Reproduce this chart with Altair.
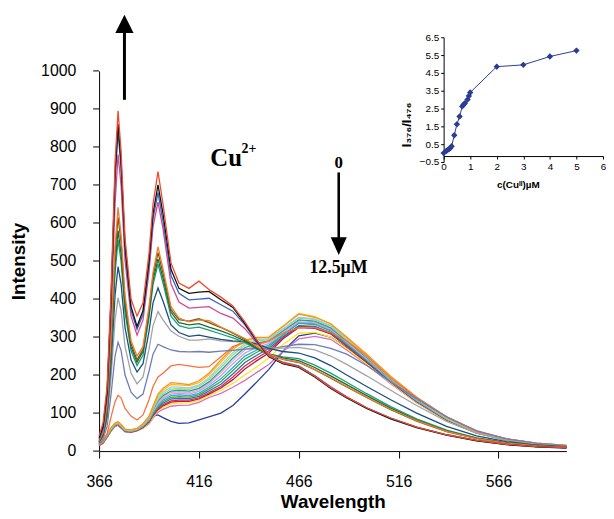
import altair as alt
import pandas as pd

# ---------------- main spectra ----------------
wavelength = [366, 368, 370, 372, 374, 375.5, 377, 379, 382, 385, 388, 391, 393, 395.5, 398, 402, 406, 411, 416, 421,
              427, 433, 439, 445, 451, 458, 466, 474, 482, 490, 500, 512, 525, 540, 555, 570, 585, 600]

royal = [14, 21, 36, 53, 65, 68, 61, 51, 50, 56, 70, 85, 92, 95, 88, 78, 73, 74, 82, 90, 100, 120, 150, 182, 215, 262, 303, 310, 300, 272, 232, 180, 129, 81, 48, 29, 19, 14]
pinkpurple = [14, 21, 36, 53, 65, 68, 61, 51, 49, 53, 60, 72, 87, 102, 110, 118, 120, 121, 128, 141, 152, 168, 186, 207, 228, 262, 295, 302, 294, 266, 228, 177, 127, 80, 47, 29, 19, 14]
yellow = [15, 22, 37, 54, 66, 69, 62, 52, 50, 54, 61, 74, 90, 106, 115, 124, 126, 127, 133, 146, 160, 178, 200, 222, 245, 280, 310, 312, 300, 270, 230, 179, 128, 81, 48, 29, 19, 14]
crimson = [15, 22, 38, 55, 67, 70, 63, 52, 50, 54, 62, 76, 93, 109, 119, 129, 131, 131, 137, 150, 166, 188, 216, 238, 258, 295, 325, 323, 308, 276, 234, 182, 130, 82, 48, 30, 19, 14]
red2 = [16, 23, 39, 56, 68, 71, 64, 53, 51, 55, 63, 77, 95, 111, 122, 132, 134, 134, 140, 153, 170, 195, 224, 245, 264, 298, 328, 326, 310, 278, 236, 183, 131, 83, 49, 30, 19, 14]
blue2 = [16, 23, 39, 56, 68, 71, 64, 53, 51, 55, 64, 78, 97, 114, 126, 137, 139, 138, 144, 158, 176, 203, 233, 252, 270, 300, 330, 328, 312, 280, 237, 184, 131, 83, 49, 30, 19, 14]
green = [16, 24, 40, 57, 69, 72, 65, 54, 52, 56, 65, 80, 99, 117, 130, 141, 143, 142, 148, 163, 183, 212, 242, 260, 275, 304, 336, 333, 316, 282, 239, 185, 132, 84, 49, 30, 19, 14]
cyan = [17, 24, 40, 57, 69, 72, 65, 54, 52, 56, 66, 82, 102, 120, 134, 146, 148, 146, 152, 168, 190, 220, 250, 266, 279, 306, 338, 335, 318, 284, 240, 186, 133, 84, 49, 30, 19, 14]
lavender = [17, 25, 41, 58, 70, 73, 66, 55, 53, 57, 67, 84, 104, 124, 138, 150, 152, 150, 157, 173, 198, 230, 258, 273, 283, 310, 340, 337, 320, 286, 242, 187, 134, 85, 50, 31, 20, 14]
pink = [17, 25, 42, 59, 71, 74, 67, 55, 53, 57, 68, 85, 106, 128, 142, 154, 156, 154, 161, 178, 206, 238, 266, 279, 287, 314, 344, 340, 322, 288, 244, 188, 135, 85, 50, 31, 20, 14]
teal2 = [18, 26, 42, 59, 71, 74, 67, 56, 54, 58, 69, 86, 108, 132, 146, 158, 160, 158, 165, 182, 212, 245, 272, 284, 290, 316, 345, 342, 324, 290, 246, 189, 136, 86, 50, 31, 20, 14]
lightgreen = [18, 26, 43, 60, 72, 75, 68, 56, 54, 58, 70, 87, 110, 136, 150, 163, 164, 162, 170, 188, 220, 253, 278, 289, 293, 320, 350, 346, 328, 293, 248, 190, 137, 86, 50, 31, 20, 14]
lightblue = [19, 27, 43, 60, 72, 75, 68, 57, 55, 59, 70, 88, 112, 140, 155, 168, 168, 166, 174, 193, 226, 259, 283, 293, 296, 322, 352, 348, 330, 295, 250, 192, 138, 87, 51, 32, 20, 15]
gold = [19, 27, 44, 61, 73, 76, 69, 57, 55, 59, 71, 90, 115, 146, 160, 175, 174, 172, 180, 200, 234, 267, 289, 297, 299, 328, 362, 354, 334, 298, 252, 194, 140, 88, 51, 32, 21, 15]
orange1 = [20, 28, 45, 62, 74, 77, 70, 58, 56, 60, 72, 92, 118, 150, 165, 180, 178, 175, 185, 205, 240, 272, 292, 299, 300, 328, 360, 352, 335, 300, 255, 197, 142, 90, 52, 33, 21, 15]
orangered = [15, 25, 45, 90, 130, 147, 140, 112, 92, 82, 95, 135, 170, 195, 205, 224, 228, 224, 220, 222, 248, 275, 286, 280, 290, 310, 325, 325, 312, 290, 250, 192, 140, 90, 52, 32, 21, 15]
slate = [18, 32, 65, 150, 250, 286, 265, 200, 155, 138, 150, 210, 255, 281, 275, 266, 262, 261, 262, 260, 263, 265, 268, 270, 268, 275, 281, 280, 270, 255, 225, 182, 138, 90, 54, 32, 20, 14]
grey = [20, 36, 80, 195, 345, 403, 370, 275, 205, 177, 195, 268, 330, 367, 345, 316, 302, 292, 292, 295, 290, 288, 287, 280, 271, 271, 273, 266, 250, 228, 198, 160, 120, 78, 47, 28, 18, 13]
navy = [22, 40, 92, 230, 410, 485, 440, 325, 240, 208, 230, 315, 390, 429, 395, 332, 312, 302, 305, 300, 294, 290, 288, 282, 270, 262, 258, 245, 225, 200, 170, 135, 100, 65, 40, 25, 16, 12]
teal = [24, 43, 102, 262, 468, 555, 500, 365, 264, 225, 252, 350, 438, 492, 442, 355, 330, 323, 326, 318, 308, 298, 286, 268, 256, 248, 243, 226, 205, 181, 151, 117, 85, 55, 35, 22, 15, 10]
dkgreen = [25, 45, 108, 275, 490, 580, 520, 380, 274, 234, 262, 362, 450, 505, 455, 365, 338, 332, 335, 326, 316, 304, 290, 270, 255, 245, 238, 220, 198, 175, 146, 113, 82, 53, 34, 22, 15, 10]
brown = [26, 48, 115, 290, 520, 615, 550, 395, 282, 240, 268, 370, 460, 522, 468, 372, 346, 342, 348, 338, 325, 310, 294, 273, 254, 241, 233, 214, 192, 169, 141, 109, 79, 51, 33, 21, 14, 10]
orange = [28, 50, 120, 300, 540, 641, 570, 410, 290, 250, 275, 380, 470, 537, 480, 380, 350, 340, 345, 343, 326, 312, 296, 275, 255, 242, 234, 215, 193, 170, 142, 110, 80, 52, 33, 21, 14, 10]
magenta = [30, 55, 140, 360, 650, 780, 700, 500, 355, 305, 345, 470, 590, 655, 585, 440, 392, 376, 378, 380, 362, 350, 322, 284, 254, 230, 222, 198, 169, 143, 114, 87, 63, 43, 28, 18, 12, 9]
blue = [32, 60, 150, 390, 710, 840, 745, 525, 370, 320, 360, 490, 610, 680, 605, 462, 415, 398, 400, 402, 385, 368, 332, 287, 250, 234, 224, 198, 168, 142, 113, 86, 63, 43, 28, 18, 12, 9]
black = [35, 65, 155, 400, 730, 860, 760, 540, 380, 328, 370, 500, 625, 700, 625, 478, 428, 415, 418, 420, 398, 378, 335, 290, 248, 230, 220, 195, 165, 140, 112, 85, 62, 42, 27, 17, 11, 8]
red = [40, 75, 170, 420, 760, 895, 790, 560, 400, 355, 390, 520, 650, 735, 650, 495, 442, 428, 447, 425, 405, 382, 340, 292, 250, 232, 222, 197, 167, 142, 114, 87, 63, 43, 28, 18, 12, 9]

series_names = ["royal", "pinkpurple", "yellow", "crimson", "red2", "blue2", "green", "cyan", "lavender", "pink",
                "teal2", "lightgreen", "lightblue", "gold", "orange1", "orangered", "slate", "grey", "navy", "teal",
                "dkgreen", "brown", "orange", "magenta", "blue", "black", "red"]
series_values = [royal, pinkpurple, yellow, crimson, red2, blue2, green, cyan, lavender, pink,
                 teal2, lightgreen, lightblue, gold, orange1, orangered, slate, grey, navy, teal,
                 dkgreen, brown, orange, magenta, blue, black, red]
series_colors = ["#2B3E9B", "#D56EC6", "#FFE81A", "#B8175A", "#E03030", "#2F6DB5", "#3BAA4A", "#2AA8DF", "#BBA3D6", "#F4A3C0",
                 "#17A2A8", "#A8D672", "#8ECFEA", "#FDBA12", "#F7941D", "#F4733E", "#6E7DBA", "#A3A3A3", "#1B4F7E", "#14A07C",
                 "#1D6B30", "#6E5A14", "#EE7D2E", "#D5488F", "#3465C0", "#111111", "#EE4B2B"]

rows = []
for k, (name, vals) in enumerate(zip(series_names, series_values)):
    for w, v in zip(wavelength, vals):
        rows.append({"series": name, "k": k, "wl": w, "I": v})
spectra = pd.DataFrame(rows)

# ---------------- axis tick values ----------------
x_ticks = [366, 416, 466, 516, 566]
y_ticks = [0, 100, 200, 300, 400, 500, 600, 700, 800, 900, 1000]
y_tick_labels = ["0", "100", "200", "300", "400", "500", "600", "700", "800", "900", "1000"]

# ---------------- annotations (data coordinates) ----------------
shaft_wl = [378.7, 486.0]
shaft_lo = [924, 733]
shaft_hi = [1101, 560]
shaft_w = [3, 2.6]

head_wl = [378.7, 486.0]
head_I = [1124, 539]
head_shape = ["M0,-1L1,1L-1,1Z", "M-0.9,-1L0.9,-1L0,1Z"]

label_text = ["Cu", "2+", "0", "12.5µM"]
label_wl = [429.6, 437.3, 486.0, 485.9]
label_I = [750, 784, 758, 482]
label_size = [25, 14, 17, 18]

# ---------------- inset ----------------
conc = [0, 0.1, 0.15, 0.2, 0.25, 0.3, 0.4, 0.5, 0.6, 0.7, 0.75, 0.8, 0.9, 0.95, 1.0, 2, 3, 4, 5]
ratio = [0.0, 0.12, 0.18, 0.22, 0.28, 0.38, 1.0, 1.62, 2.05, 2.62, 2.72, 2.8, 3.0, 3.2, 3.4, 4.85, 4.95, 5.42, 5.75]
err = [0.12, 0.12, 0.12, 0.12, 0.12, 0.12, 0.12, 0.12, 0.12, 0.12, 0.12, 0.12, 0.12, 0.12, 0.12, 0.14, 0.12, 0.14, 0.14]
inset_ticks_y = [-0.5, 0.5, 1.5, 2.5, 3.5, 4.5, 5.5, 6.5]
inset_ticks_x = [0, 1, 2, 3, 4, 5, 6]
IC = "#2B3C94"

FONT = "Liberation Sans"
SERIF = "Liberation Serif"

xs = alt.Scale(domain=[366, 600], nice=False, zero=False)
ys = alt.Scale(domain=[0, 1000], nice=False, zero=False)

lines = alt.Chart(spectra).mark_line(strokeWidth=1.3).encode(
    x=alt.X("wl:Q", scale=xs, axis=alt.Axis(
        values=x_ticks, orient="bottom", title="Wavelength", format="d",
        labelFontSize=16, tickSize=7, labelPadding=16, labelFlush=False, labelOverlap=False,
        titleFontSize=19, titleFontWeight="bold", titleX=236, titleY=57, titleBaseline="alphabetic")),
    y=alt.Y("I:Q", scale=ys, axis=alt.Axis(
        orient="left", title="Intensity", labels=False, ticks=False,
        titleFontSize=19, titleFontWeight="bold", titleX=-75, titleY=192, titleAngle=270,
        titleBaseline="alphabetic")),
    color=alt.Color("series:N", scale=alt.Scale(domain=series_names, range=series_colors), legend=None),
    detail="k:O",
)

# y-axis ticks and labels, placed through the y scale
ytick_df = pd.DataFrame({"I": y_ticks, "lab": y_tick_labels})
ytick_marks = alt.Chart(ytick_df).mark_rule(color="black", strokeWidth=1).encode(
    y="I:Q", x=alt.value(-6), x2=alt.value(0))
ytick_text = alt.Chart(ytick_df).mark_text(align="right", baseline="middle", font=FONT, fontSize=16,
                                           color="black").encode(y="I:Q", x=alt.value(-23), text="lab:N")

shaft_df = pd.DataFrame({"wl": shaft_wl, "I": shaft_lo, "I2": shaft_hi, "w": shaft_w})
shafts = alt.Chart(shaft_df).mark_rule(color="black").encode(
    x="wl:Q", y="I:Q", y2="I2:Q", strokeWidth=alt.StrokeWidth("w:Q", scale=None))

head_up = alt.Chart(pd.DataFrame({"wl": head_wl[:1], "I": head_I[:1]})).mark_point(
    shape=head_shape[0], size=340, filled=True, color="black", opacity=1, strokeWidth=0).encode(x="wl:Q", y="I:Q")
head_down = alt.Chart(pd.DataFrame({"wl": head_wl[1:], "I": head_I[1:]})).mark_point(
    shape=head_shape[1], size=324, filled=True, color="black", opacity=1, strokeWidth=0).encode(x="wl:Q", y="I:Q")

lab_df = pd.DataFrame({"t": label_text, "wl": label_wl, "I": label_I, "fs": label_size})
label_cu = alt.Chart(lab_df.iloc[:1]).mark_text(font=SERIF, fontWeight="bold", baseline="alphabetic",
                                                align="center", color="black").encode(
    x="wl:Q", y="I:Q", text="t:N", size=alt.Size("fs:Q", scale=None))
label_sup = alt.Chart(lab_df.iloc[1:2]).mark_text(font=SERIF, fontWeight="bold", baseline="alphabetic",
                                                  align="left", color="black").encode(
    x="wl:Q", y="I:Q", text="t:N", size=alt.Size("fs:Q", scale=None))
labels_mid = alt.Chart(lab_df.iloc[2:]).mark_text(font=SERIF, fontWeight="bold", baseline="middle",
                                                  align="center", color="black").encode(
    x="wl:Q", y="I:Q", text="t:N", size=alt.Size("fs:Q", scale=None))

main = alt.layer(lines, ytick_marks, ytick_text, shafts, head_up, head_down, label_cu, label_sup, labels_mid)

inset_df = pd.DataFrame({"conc": conc, "ratio": ratio, "err": err})
ixs = alt.Scale(domain=[0, 6], range=[348, 509], nice=False, zero=False)
iys = alt.Scale(domain=[-0.5, 6.5], range=[92, -34], nice=False, zero=False)
ibase = alt.Chart(inset_df)
inset_line = ibase.mark_line(color=IC, strokeWidth=1).encode(
    x=alt.X("conc:Q", scale=ixs, axis=alt.Axis(
        values=inset_ticks_x, format="d", orient="bottom", offset=-298, tickSize=3, labelFontSize=10,
        labelPadding=3, labelFlush=False, labelOverlap=False, title="c(Cuᴵᴵ)µM", titleFontSize=10,
        titleFontWeight="bold", titleX=423, titleY=32, titleBaseline="alphabetic")),
    y=alt.Y("ratio:Q", scale=iys, axis=alt.Axis(
        values=inset_ticks_y, format=".1f", orient="left", offset=-348, tickSize=3, labelFontSize=10,
        labelPadding=2, labelOverlap=False, title="I₃₇₆/I₄₇₆", titleFontSize=13, titleFontWeight="bold",
        titleX=-33, titleY=54, titleAngle=270, titleBaseline="alphabetic")),
)
inset_err = ibase.transform_calculate(lo="datum.ratio - datum.err", hi="datum.ratio + datum.err").mark_rule(
    color=IC, strokeWidth=1.2).encode(x="conc:Q", y="lo:Q", y2="hi:Q")
inset_pts = ibase.mark_point(shape="diamond", filled=True, size=42, color=IC, opacity=1).encode(
    x="conc:Q", y="ratio:Q")
inset = alt.layer(inset_line, inset_err, inset_pts)

chart = alt.layer(main, inset).resolve_scale(x="independent", y="independent").properties(
    width=472, height=384,
    padding={"left": 92, "top": 61, "right": 40, "bottom": 62},
    autosize=alt.AutoSizeParams(type="none"),
    background="white",
).configure_view(stroke=None).configure_axis(
    grid=False, labelFont=FONT, titleFont=FONT, domainColor="black", tickColor="black",
    labelColor="black", titleColor="black", domainWidth=1, tickWidth=1,
)

chart.save("out.html", embed_options={"renderer": "svg", "actions": False})
